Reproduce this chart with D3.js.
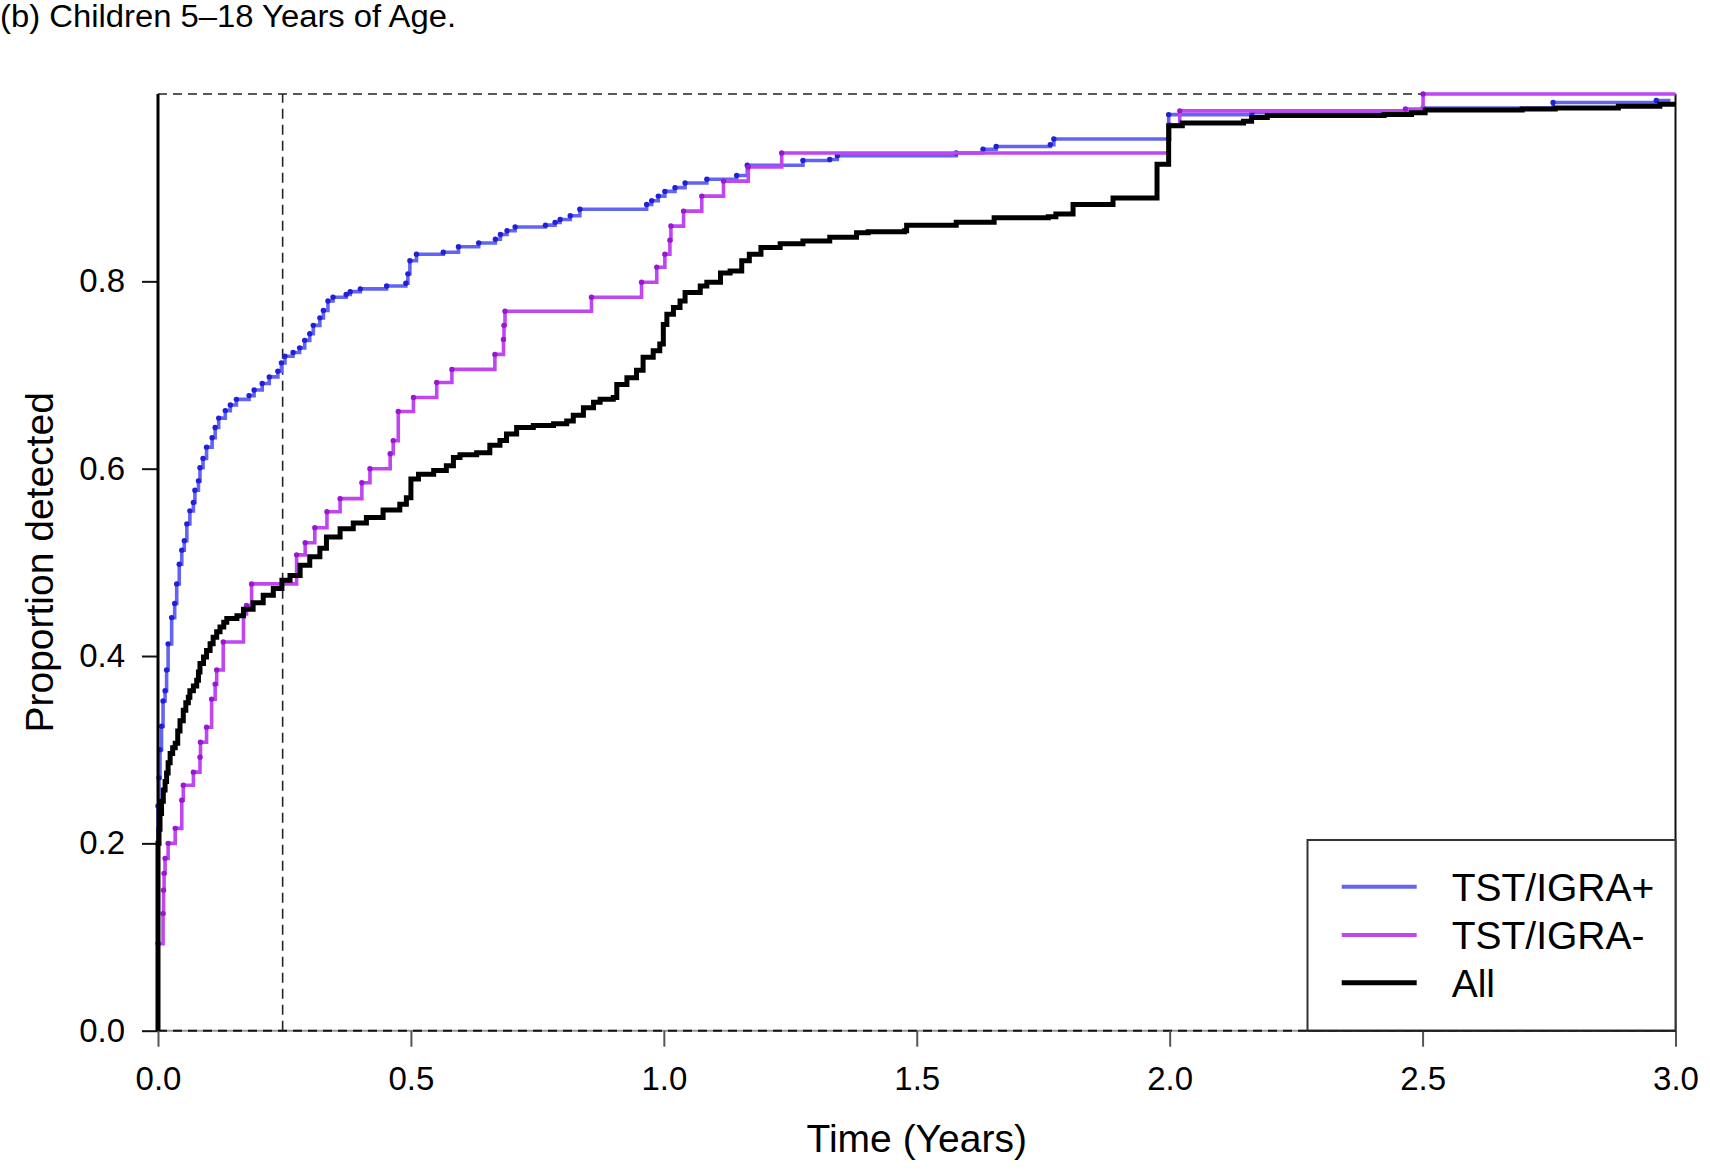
<!DOCTYPE html>
<html><head><meta charset="utf-8">
<script src="https://cdn.jsdelivr.net/npm/d3@7"></script>
<style>
body{margin:0;background:#fff;}
svg{display:block;}
text{font-family:"Liberation Sans",Arial,Helvetica,sans-serif;fill:#000;}
</style>
</head><body>
<svg id="chart" width="1710" height="1173"></svg>
<script>
// ---------- data ----------
const titleText = "(b) Children 5–18 Years of Age.";
const xLabel = "Time (Years)";
const yLabel = "Proportion detected";
const seriesNames = ["TST/IGRA+", "TST/IGRA-", "All"];
const xTicks = [0, 0.5, 1.0, 1.5, 2.0, 2.5, 3.0];
const yTicks = [0, 0.2, 0.4, 0.6, 0.8];
const cutoffTime = 90 / 365.25;

// TST/IGRA+ : event times (years) and cumulative proportion detected
const posTime = [0, 0.002, 0.004, 0.007, 0.010, 0.014, 0.017, 0.020, 0.027, 0.033, 0.037, 0.042, 0.047, 0.052, 0.057, 0.063, 0.070, 0.073, 0.080, 0.083, 0.089, 0.096, 0.107, 0.113, 0.120, 0.133, 0.143, 0.155, 0.180, 0.190, 0.206, 0.220, 0.237, 0.244, 0.251, 0.267, 0.280, 0.290, 0.300, 0.307, 0.320, 0.327, 0.336, 0.346, 0.372, 0.380, 0.400, 0.452, 0.490, 0.494, 0.498, 0.511, 0.564, 0.594, 0.634, 0.667, 0.677, 0.690, 0.706, 0.766, 0.785, 0.795, 0.815, 0.834, 0.966, 0.976, 0.989, 1.002, 1.022, 1.042, 1.085, 1.144, 1.165, 1.275, 1.328, 1.343, 1.578, 1.631, 1.657, 1.764, 1.771, 1.998, 2.163, 2.501, 2.758, 2.962];
const posProp = [0.240, 0.270, 0.300, 0.325, 0.352, 0.363, 0.385, 0.413, 0.441, 0.456, 0.477, 0.498, 0.513, 0.523, 0.541, 0.555, 0.564, 0.577, 0.587, 0.601, 0.611, 0.623, 0.633, 0.644, 0.654, 0.662, 0.668, 0.674, 0.678, 0.684, 0.691, 0.698, 0.704, 0.713, 0.720, 0.724, 0.729, 0.737, 0.744, 0.753, 0.761, 0.769, 0.779, 0.783, 0.786, 0.789, 0.792, 0.795, 0.798, 0.808, 0.822, 0.829, 0.831, 0.837, 0.841, 0.845, 0.850, 0.854, 0.858, 0.860, 0.863, 0.866, 0.870, 0.877, 0.882, 0.886, 0.891, 0.896, 0.900, 0.905, 0.909, 0.913, 0.924, 0.929, 0.930, 0.934, 0.937, 0.941, 0.944, 0.946, 0.952, 0.978, 0.980, 0.985, 0.991, 0.993];

// TST/IGRA- : event times and cumulative proportion detected
const negTime = [0, 0.010, 0.011, 0.012, 0.014, 0.020, 0.034, 0.047, 0.050, 0.070, 0.083, 0.084, 0.096, 0.106, 0.113, 0.116, 0.129, 0.169, 0.175, 0.185, 0.274, 0.291, 0.310, 0.334, 0.360, 0.403, 0.419, 0.459, 0.465, 0.475, 0.505, 0.551, 0.581, 0.666, 0.683, 0.684, 0.686, 0.857, 0.956, 0.986, 1.002, 1.012, 1.014, 1.039, 1.075, 1.118, 1.167, 1.233, 1.998, 2.000, 2.020, 2.466, 2.501];
const negProp = [0.093, 0.125, 0.150, 0.168, 0.184, 0.200, 0.216, 0.246, 0.262, 0.276, 0.292, 0.308, 0.324, 0.354, 0.370, 0.385, 0.415, 0.445, 0.454, 0.477, 0.508, 0.521, 0.537, 0.554, 0.568, 0.585, 0.600, 0.616, 0.630, 0.661, 0.676, 0.692, 0.706, 0.722, 0.738, 0.753, 0.768, 0.783, 0.799, 0.815, 0.829, 0.844, 0.859, 0.875, 0.891, 0.907, 0.922, 0.937, 0.952, 0.967, 0.982, 0.984, 1.000];

// All : event times and cumulative proportion detected
const allTime = [0, 0.002, 0.004, 0.007, 0.0105, 0.014, 0.017, 0.020, 0.024, 0.029, 0.034, 0.039, 0.0435, 0.050, 0.055, 0.060, 0.063, 0.070, 0.0765, 0.080, 0.083, 0.090, 0.096, 0.103, 0.109, 0.116, 0.1226, 0.130, 0.136, 0.156, 0.169, 0.188, 0.208, 0.228, 0.245, 0.261, 0.281, 0.300, 0.320, 0.333, 0.360, 0.386, 0.412, 0.445, 0.478, 0.491, 0.500, 0.515, 0.545, 0.570, 0.584, 0.597, 0.630, 0.656, 0.676, 0.689, 0.709, 0.742, 0.782, 0.808, 0.821, 0.841, 0.861, 0.874, 0.900, 0.907, 0.927, 0.946, 0.959, 0.979, 0.992, 0.999, 1.006, 1.019, 1.032, 1.042, 1.072, 1.085, 1.112, 1.131, 1.154, 1.169, 1.192, 1.230, 1.275, 1.328, 1.381, 1.404, 1.476, 1.480, 1.578, 1.653, 1.760, 1.775, 1.809, 1.888, 1.975, 1.998, 2.025, 2.146, 2.162, 2.193, 2.424, 2.478, 2.505, 2.697, 2.762, 2.887, 2.969];
const allProp = [0.200, 0.215, 0.232, 0.245, 0.257, 0.266, 0.275, 0.286, 0.296, 0.302, 0.307, 0.320, 0.331, 0.342, 0.350, 0.356, 0.363, 0.368, 0.374, 0.383, 0.392, 0.399, 0.406, 0.413, 0.420, 0.426, 0.431, 0.436, 0.440, 0.443, 0.450, 0.457, 0.465, 0.472, 0.481, 0.486, 0.497, 0.506, 0.515, 0.527, 0.536, 0.542, 0.548, 0.556, 0.562, 0.569, 0.589, 0.594, 0.598, 0.603, 0.612, 0.615, 0.617, 0.625, 0.630, 0.637, 0.644, 0.646, 0.648, 0.651, 0.657, 0.665, 0.671, 0.674, 0.676, 0.690, 0.697, 0.705, 0.719, 0.726, 0.733, 0.754, 0.765, 0.772, 0.779, 0.788, 0.795, 0.799, 0.809, 0.811, 0.822, 0.829, 0.836, 0.840, 0.843, 0.847, 0.852, 0.853, 0.854, 0.860, 0.863, 0.868, 0.869, 0.872, 0.882, 0.889, 0.925, 0.966, 0.969, 0.971, 0.975, 0.977, 0.978, 0.980, 0.983, 0.984, 0.985, 0.987, 0.989];

const seriesEnd = [2.99, 3.0, 3.0];
const seriesColor = ["#6464f2", "#c046f2", "#000000"];
const dotColor = ["#2020d8", "#9818d0", null];
const seriesWidth = [3.6, 3.6, 5];

// ---------- layout ----------
const svg = d3.select("#chart");
const x = d3.scaleLinear().domain([0, 3]).range([158, 1675.5]);
const y = d3.scaleLinear().domain([0, 1]).range([1030.7, 94]);

svg.append("rect").attr("width", 1710).attr("height", 1173).attr("fill", "#fff");

// title
svg.append("text").attr("x", 0).attr("y", 27)
  .attr("font-size", 31).attr("textLength", 456).attr("lengthAdjust", "spacingAndGlyphs")
  .text(titleText);

// reference lines
const dash = "9,6";
svg.append("line").attr("x1", x(0)).attr("x2", x(3)).attr("y1", y(1)).attr("y2", y(1))
  .attr("stroke", "#222").attr("stroke-width", 1.6).attr("stroke-dasharray", dash);
svg.append("line").attr("x1", x(0)).attr("x2", x(3)).attr("y1", y(0)).attr("y2", y(0))
  .attr("stroke", "#9a9a9a").attr("stroke-width", 2);
svg.append("line").attr("x1", x(0)).attr("x2", x(3)).attr("y1", y(0)).attr("y2", y(0))
  .attr("stroke", "#111").attr("stroke-width", 2).attr("stroke-dasharray", dash);
svg.append("line").attr("x1", x(cutoffTime)).attr("x2", x(cutoffTime)).attr("y1", y(0)).attr("y2", y(1))
  .attr("stroke", "#222").attr("stroke-width", 1.6).attr("stroke-dasharray", "10,6");
// right border
svg.append("line").attr("x1", x(3)).attr("x2", x(3)).attr("y1", y(1)).attr("y2", y(0))
  .attr("stroke", "#111").attr("stroke-width", 2);

// axes
const yAxis = d3.axisLeft(y).tickValues(yTicks).tickSize(16).tickSizeOuter(0).tickPadding(17)
  .tickFormat(d3.format(".1f"));
const gy = svg.append("g").attr("transform", `translate(${x(0)},0)`).call(yAxis);
gy.select(".domain").remove();
gy.selectAll(".tick line").attr("stroke", "#111").attr("stroke-width", 2);
gy.selectAll(".tick text").attr("font-size", 33).attr("font-family", "Liberation Sans, Arial, sans-serif").attr("fill", "#000");

const xAxis = d3.axisBottom(x).tickValues(xTicks).tickSize(16).tickSizeOuter(0).tickPadding(20)
  .tickFormat(d3.format(".1f"));
const gx = svg.append("g").attr("transform", `translate(0,${y(0)})`).call(xAxis);
gx.select(".domain").remove();
gx.selectAll(".tick line").attr("stroke", "#555").attr("stroke-width", 2);
gx.selectAll(".tick text").attr("font-size", 33).attr("font-family", "Liberation Sans, Arial, sans-serif").attr("fill", "#000");

// axis titles
svg.append("text").attr("x", (x(0) + x(3)) / 2).attr("y", 1152).attr("text-anchor", "middle")
  .attr("font-size", 39).text(xLabel);
svg.append("text").attr("transform", `translate(53,${(y(0) + y(1)) / 2}) rotate(-90)`)
  .attr("text-anchor", "middle").attr("font-size", 39).text(yLabel);

// curves
const seriesData = [[posTime, posProp], [negTime, negProp], [allTime, allProp]];
const stepLine = d3.line().x(d => x(d.t)).y(d => y(d.p)).curve(d3.curveStepAfter);
const gCurves = svg.append("g");
seriesData.forEach(([ts, ps], i) => {
  const pts = [{t: 0, p: 0}].concat(ts.map((t, k) => ({t: t, p: ps[k]})));
  pts.push({t: seriesEnd[i], p: ps[ps.length - 1]});
  gCurves.append("path").datum(pts).attr("d", stepLine)
    .attr("fill", "none").attr("stroke", seriesColor[i]).attr("stroke-width", seriesWidth[i])
    .attr("stroke-linejoin", "miter");
  if (dotColor[i]) {
    gCurves.append("g").selectAll("circle").data(pts.slice(1, -1)).join("circle")
      .attr("cx", d => x(d.t)).attr("cy", d => y(d.p)).attr("r", 2.7).attr("fill", dotColor[i]);
  }
});

// left border (drawn over curves)
svg.append("line").attr("x1", x(0)).attr("x2", x(0)).attr("y1", y(0)).attr("y2", y(1))
  .attr("stroke", "#000").attr("stroke-width", 3);

// legend
const lg = svg.append("g");
lg.append("rect").attr("x", 1307.5).attr("y", 840).attr("width", 1675.5 - 1307.5).attr("height", y(0) - 840)
  .attr("fill", "#fff").attr("stroke", "#333").attr("stroke-width", 2);
const legendY = [886.7, 935, 982.7];
const legendW = [4, 4, 5];
seriesNames.forEach((name, i) => {
  lg.append("line").attr("x1", 1341.7).attr("x2", 1416.7).attr("y1", legendY[i]).attr("y2", legendY[i])
    .attr("stroke", seriesColor[i]).attr("stroke-width", legendW[i]);
  lg.append("text").attr("x", 1451.7).attr("y", legendY[i] + 14).attr("font-size", 39).text(name);
});
// bottom axis line under legend region
svg.append("line").attr("x1", 1307.5).attr("x2", x(3)).attr("y1", y(0)).attr("y2", y(0))
  .attr("stroke", "#222").attr("stroke-width", 2);
</script>
</body></html>
